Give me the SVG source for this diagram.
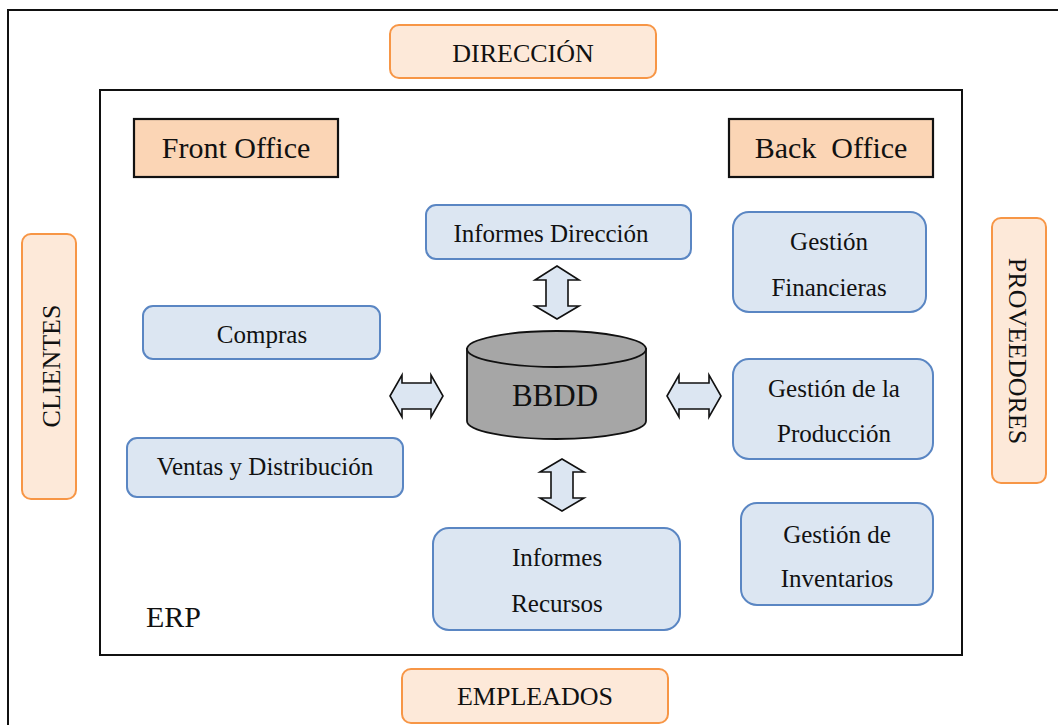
<svg xmlns="http://www.w3.org/2000/svg" width="1058" height="725" viewBox="0 0 1058 725">
  <style>
    text { font-family: "Liberation Serif", "Times New Roman", serif; fill: #111; text-anchor: middle; }
    .frame { fill: none; stroke: #111; stroke-width: 2; }
    .actor { fill: #fde9d9; stroke: #f79646; stroke-width: 2; }
    .office { fill: #fbd5b5; stroke: #111; stroke-width: 2.2; }
    .module { fill: #dce6f2; stroke: #5a86c3; stroke-width: 2; }
    .arrow { fill: #dce6f2; stroke: #111; stroke-width: 1.6; stroke-linejoin: miter; }
    .db { fill: #a6a6a6; stroke: #111; stroke-width: 1.8; }
    .t25 { font-size: 25px; }
    .t26 { font-size: 26px; }
    .t30 { font-size: 30px; }
  </style>

  <!-- outer frame and ERP boundary -->
  <rect class="frame" x="8" y="10" width="1062" height="730"/>
  <g id="erp">
    <rect class="frame" x="100" y="90" width="862" height="565"/>
    <text class="t30" x="146" y="627" style="text-anchor:start">ERP</text>
  </g>

  <!-- external actors -->
  <g id="direccion">
    <rect class="actor" x="390" y="25" width="266" height="53" rx="9"/>
    <text class="t26" x="523" y="62">DIRECCIÓN</text>
  </g>
  <g id="empleados">
    <rect class="actor" x="402" y="669" width="266" height="54" rx="9"/>
    <text class="t26" x="535" y="705">EMPLEADOS</text>
  </g>
  <g id="clientes">
    <rect class="actor" x="22" y="234" width="54" height="265" rx="9"/>
    <text class="t26" transform="translate(60,366) rotate(-90)" x="0" y="0">CLIENTES</text>
  </g>
  <g id="proveedores">
    <rect class="actor" x="992" y="218" width="54" height="265" rx="9"/>
    <text class="t26" transform="translate(1009,351) rotate(90)" x="0" y="0">PROVEEDORES</text>
  </g>

  <!-- office headers -->
  <g id="front-office">
    <rect class="office" x="134" y="119" width="204" height="58"/>
    <text class="t30" x="236" y="158">Front Office</text>
  </g>
  <g id="back-office">
    <rect class="office" x="729" y="119" width="204" height="58"/>
    <text class="t30" x="831" y="158" xml:space="preserve">Back  Office</text>
  </g>

  <!-- ERP modules -->
  <g id="informes-direccion">
    <rect class="module" x="426" y="205" width="265" height="54" rx="10"/>
    <text class="t25" x="551" y="242">Informes Dirección</text>
  </g>
  <g id="compras">
    <rect class="module" x="143" y="306" width="237" height="53" rx="10"/>
    <text class="t25" x="262" y="343">Compras</text>
  </g>
  <g id="ventas">
    <rect class="module" x="127" y="438" width="276" height="59" rx="10"/>
    <text class="t25" x="265" y="475">Ventas y Distribución</text>
  </g>
  <g id="informes-recursos">
    <rect class="module" x="433" y="528" width="247" height="102" rx="16"/>
    <text class="t25" x="557" y="566">Informes</text>
    <text class="t25" x="557" y="612">Recursos</text>
  </g>
  <g id="gestion-financieras">
    <rect class="module" x="733" y="212" width="193" height="100" rx="16"/>
    <text class="t25" x="829" y="250">Gestión</text>
    <text class="t25" x="829" y="296">Financieras</text>
  </g>
  <g id="gestion-produccion">
    <rect class="module" x="733" y="359" width="200" height="100" rx="16"/>
    <text class="t25" x="834" y="397">Gestión de la</text>
    <text class="t25" x="834" y="442">Producción</text>
  </g>
  <g id="gestion-inventarios">
    <rect class="module" x="741" y="503" width="192" height="102" rx="16"/>
    <text class="t25" x="837" y="543">Gestión de</text>
    <text class="t25" x="837" y="587">Inventarios</text>
  </g>

  <!-- central database -->
  <g id="bbdd">
    <path class="db" d="M467,349 L467,421 A89.5,18 0 0,0 646,421 L646,349 Z"/>
    <ellipse class="db" cx="556.5" cy="349" rx="89.5" ry="18"/>
    <text x="555" y="406" style="font-size:31px">BBDD</text>
  </g>

  <!-- two-way block arrows -->
  <g id="connectors">
    <path class="arrow" d="M557,266 L579,280 L568,280 L568,306 L579,306 L557,319 L535,306 L546,306 L546,280 L535,280 Z"/>
    <path class="arrow" d="M562,459 L584,472 L573,472 L573,498 L584,498 L562,511 L540,498 L551,498 L551,472 L540,472 Z"/>
    <path class="arrow" d="M390,396 L402,375 L402,383 L431,383 L431,375 L443,396 L431,417 L431,409 L402,409 L402,417 Z"/>
    <path class="arrow" d="M667,396 L679,375 L679,383 L709,383 L709,375 L721,396 L709,417 L709,409 L679,409 L679,417 Z"/>
  </g>
</svg>
